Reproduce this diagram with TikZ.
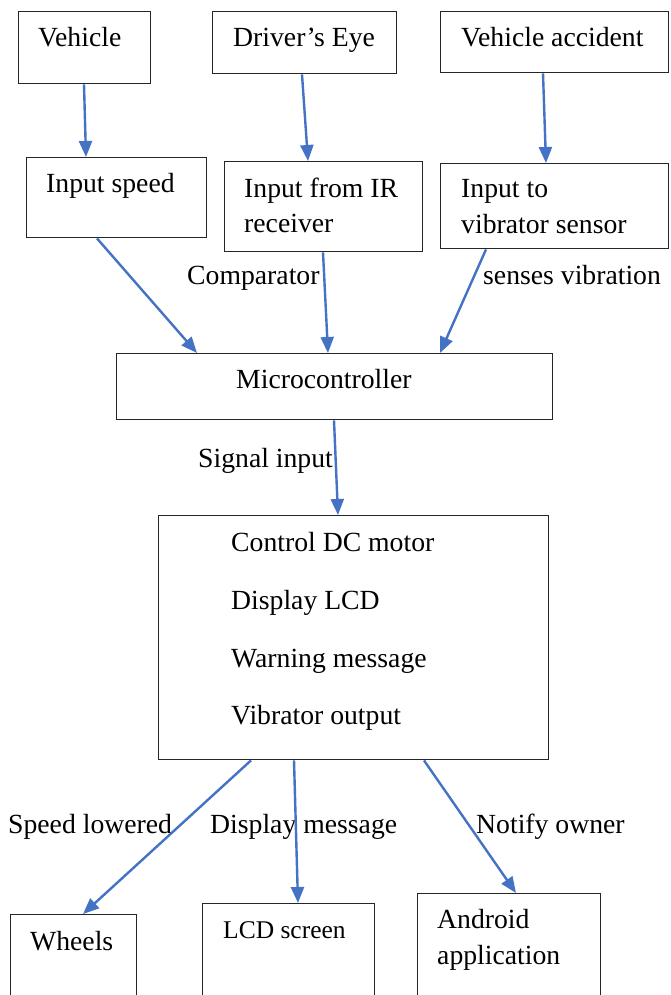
\documentclass[tikz,border=0pt]{standalone}
\usepackage{fontspec}
\setmainfont{Liberation Serif}
\usetikzlibrary{arrows.meta}
\definecolor{arrblue}{HTML}{4472C4}
\tikzset{
  x=1pt, y=-1pt,
  box/.style={draw=black!85, line width=1.4pt, rectangle, inner sep=0pt, anchor=north west},
  lbl/.style={anchor=base west, inner sep=0pt, font=\fontsize{27.7}{32}\selectfont},
  arr/.style={draw=arrblue, line width=2.4pt, -{Triangle[length=16pt,width=13pt]}, shorten <=0pt},
}
\begin{document}
\begin{tikzpicture}
\useasboundingbox (0,0) rectangle (670,995);
\fill[white] (0,0) rectangle (670,995);
\clip (0,0) rectangle (670,995);
% top row
\node[box, minimum width=132pt, minimum height=72pt] (veh) at (18,11) {};
\node[box, minimum width=184pt, minimum height=62pt] (eye) at (212,11) {};
\node[box, minimum width=228pt, minimum height=61pt] (acc) at (440,11) {};
\node[lbl] (tveh) at (38,47) {Vehicle};
\node[lbl] (teye) at (233,47) {Driver’s Eye};
\node[lbl] (tacc) at (461,47) {Vehicle accident};
% second row
\node[box, minimum width=180pt, minimum height=80pt] (spd) at (26,157) {};
\node[box, minimum width=198pt, minimum height=90pt] (ir) at (224,161) {};
\node[box, minimum width=228pt, minimum height=85pt] (vib) at (440,163) {};
\node[lbl] (tspd) at (46,193) {Input speed};
\node[lbl] (tir1) at (244,197) {Input from IR};
\node[lbl] (tir2) at (244,232) {receiver};
\node[lbl] (tvib1) at (461,197) {Input to};
\node[lbl] (tvib2) at (461,233) {vibrator sensor};
% labels
\node[lbl] (lcomp) at (187,284) {Comparator};
\node[lbl] (lsens) at (483,284) {senses vibration};
% microcontroller
\node[box, minimum width=436pt, minimum height=66pt] (mc) at (116,353) {};
\node[lbl] (tmc) at (236,388) {Microcontroller};
\node[lbl] (lsig) at (198,467) {Signal input};
% big box
\node[box, minimum width=390pt, minimum height=244pt] (big) at (158,515) {};
\node[lbl] (t1) at (231,551) {Control DC motor};
\node[lbl] (t2) at (231,609) {Display LCD};
\node[lbl] (t3) at (231,667) {Warning message};
\node[lbl] (t4) at (231,724) {Vibrator output};
% bottom labels
\node[lbl] (lspd) at (8,833) {Speed lowered};
\node[lbl] (ldis) at (210,833) {Display message};
\node[lbl] (lnot) at (476,833) {Notify owner};
% bottom boxes
\node[box, minimum width=126pt, minimum height=110pt] (whl) at (10,914) {};
\node[box, minimum width=172pt, minimum height=120pt] (lcd) at (202,903) {};
\node[box, minimum width=183pt, minimum height=130pt] (and) at (417,893) {};
\node[lbl] (twhl) at (30,950) {Wheels};
\node[lbl, font=\fontsize{25.5}{30}\selectfont] (tlcd) at (223,938) {LCD screen};
\node[lbl] (tand1) at (437,928) {Android};
\node[lbl] (tand2) at (437,964) {application};
% arrows
\draw[arr] (veh.south -| 84,0) -- (spd.north -| 86,0);
\draw[arr] (eye.south -| 302,0) -- (ir.north -| 308,0);
\draw[arr] (acc.south -| 543,0) -- (vib.north -| 546,0);
\draw[arr] (spd.south -| 97,0) -- (mc.north -| 197,0);
\draw[arr] (ir.south -| 323,0) -- (mc.north -| 328,0);
\draw[arr] (vib.south -| 486,0) -- (mc.north -| 440,0);
\draw[arr] (mc.south -| 334,0) -- (big.north -| 338,0);
\draw[arr] (big.south -| 251,0) -- (whl.north -| 83,0);
\draw[arr] (big.south -| 294,0) -- (lcd.north -| 298,0);
\draw[arr] (big.south -| 424,0) -- (and.north -| 516,0);
\end{tikzpicture}
\end{document}
